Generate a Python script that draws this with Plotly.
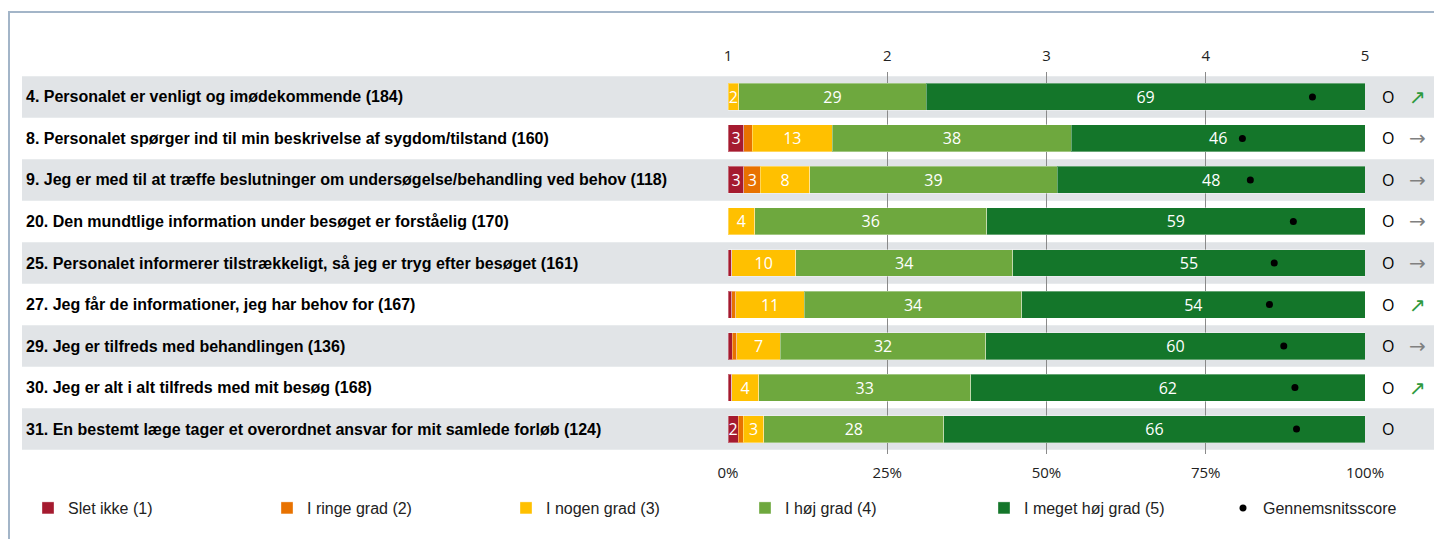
import plotly.graph_objects as go

questions = [
    "4. Personalet er venligt og imødekommende (184)",
    "8. Personalet spørger ind til min beskrivelse af sygdom/tilstand (160)",
    "9. Jeg er med til at træffe beslutninger om undersøgelse/behandling ved behov (118)",
    "20. Den mundtlige information under besøget er forståelig (170)",
    "25. Personalet informerer tilstrækkeligt, så jeg er tryg efter besøget (161)",
    "27. Jeg får de informationer, jeg har behov for (167)",
    "29. Jeg er tilfreds med behandlingen (136)",
    "30. Jeg er alt i alt tilfreds med mit besøg (168)",
    "31. En bestemt læge tager et overordnet ansvar for mit samlede forløb (124)",
]
slet_ikke = [0, 2.5, 2.5, 0, 0.6, 0.6, 0.7, 0.6, 1.6]
i_ringe = [0, 1.3, 2.6, 0, 0, 0.6, 0.7, 0, 0.8]
i_nogen = [1.7, 12.6, 7.7, 4.2, 10.0, 10.8, 6.8, 4.2, 3.2]
i_hoej = [29.4, 37.5, 38.9, 36.4, 34.1, 34.1, 32.3, 33.3, 28.3]
i_meget_hoej = [68.9, 46.1, 48.3, 59.4, 55.3, 53.9, 59.5, 61.9, 66.1]
mean_score = [4.67, 4.23, 4.28, 4.55, 4.43, 4.40, 4.49, 4.56, 4.57]
significance = ["O"] * 9
trend = ["up", "flat", "flat", "flat", "flat", "up", "flat", "up", ""]

series = [
    ("Slet ikke (1)", slet_ikke, "#A51A2F"),
    ("I ringe grad (2)", i_ringe, "#E87200"),
    ("I nogen grad (3)", i_nogen, "#FFC000"),
    ("I høj grad (4)", i_hoej, "#6EA83E"),
    ("I meget høj grad (5)", i_meget_hoej, "#14762A"),
]
pct_ticks = [0, 25, 50, 75, 100]
pct_labels = ["0%", "25%", "50%", "75%", "100%"]
score_ticks = [1, 2, 3, 4, 5]

W, H = 1434, 539
L, R, T, B = 728, 0, 72, 85
pw = W - L - R
ph = H - T - B
X_END = 1365  # right end of the 0-100% scale, in page pixels
dom = [0, (X_END - L) / pw]

def px(x):
    return (x - L) / pw

def py(y):
    return 1 - (y - T) / ph

rows = list(range(len(questions)))
fig = go.Figure()

for name, vals, col in series:
    texts = [str(int(v + 0.5)) if v >= 1.5 else "" for v in vals]
    fig.add_trace(go.Bar(
        y=rows, x=vals, orientation="h", name=name,
        marker=dict(color=col, line=dict(color="rgba(255,255,255,0.35)", width=1)),
        width=0.65, text=texts, textposition="inside", insidetextanchor="middle",
        textangle=0, textfont=dict(color="white", size=16, family="Open Sans"),
        hoverinfo="x+name",
    ))

fig.add_trace(go.Scatter(
    x=mean_score, y=rows, xaxis="x2", mode="markers", name="Gennemsnitsscore",
    marker=dict(color="black", size=7),
))

shapes = []
for i in rows:
    if i % 2 == 0:
        shapes.append(dict(type="rect", xref="paper", yref="y", x0=px(22), x1=px(1434),
                           y0=i - 0.5, y1=i + 0.5, fillcolor="#E1E4E7", line=dict(width=0),
                           layer="below"))
# outer frame (left and top edges)
shapes.append(dict(type="path", xref="paper", yref="paper",
                   path=f"M {px(9)} {py(539)} L {px(9)} {py(12)} L {px(1434)} {py(12)}",
                   line=dict(color="#A3B5C8", width=2)))

annotations = []
for i, q in enumerate(questions):
    annotations.append(dict(xref="paper", yref="y", x=px(24), y=i, text=q, showarrow=False,
                            xanchor="left", yanchor="middle",
                            font=dict(family="Liberation Sans, Arial", size=16, color="black",
                                      weight="bold")))
    annotations.append(dict(xref="paper", yref="y", x=px(1388), y=i, text=significance[i],
                            showarrow=False, xanchor="center", yanchor="middle",
                            font=dict(family="Open Sans", size=16, color="black")))
    if trend[i]:
        sym = "↗" if trend[i] == "up" else "→"
        colr = "#2E9A3E" if trend[i] == "up" else "#808080"
        annotations.append(dict(xref="paper", yref="y", x=px(1417), y=i, text=sym,
                                showarrow=False, xanchor="center", yanchor="middle",
                                font=dict(family="DejaVu Sans", size=20, color=colr)))

fig.update_layout(
    width=W, height=H,
    margin=dict(l=L, r=R, t=T, b=B, autoexpand=False),
    paper_bgcolor="white", plot_bgcolor="rgba(0,0,0,0)",
    barmode="stack",
    font=dict(family="Open Sans", size=15, color="#222"),
    showlegend=True,
    legend=dict(orientation="h", x=px(28), xanchor="left", y=py(508), yanchor="middle",
                entrywidth=194, entrywidthmode="pixels", traceorder="normal",
                font=dict(family="Liberation Sans, Arial", size=16, color="#222"),
                itemclick=False, itemdoubleclick=False),
    xaxis=dict(domain=dom, range=[0, 100], tickvals=pct_ticks, ticktext=pct_labels,
               showgrid=True, gridcolor="#8A8A8A", gridwidth=1, zeroline=False,
               showline=False, ticks="outside", ticklen=5, tickcolor="rgba(0,0,0,0)",
               automargin=False,
               tickfont=dict(family="Open Sans", size=15, color="#222"), fixedrange=True),
    xaxis2=dict(domain=dom, range=[1, 5], tickvals=score_ticks, overlaying="x", side="top",
                showgrid=False, zeroline=False, showline=False, automargin=False,
                ticks="outside", ticklen=4, tickcolor="rgba(0,0,0,0)",
                tickfont=dict(family="Open Sans", size=15, color="#222"), fixedrange=True),
    yaxis=dict(range=[len(questions) - 0.4, -0.6], showticklabels=False, showgrid=False,
               zeroline=False, fixedrange=True, automargin=False),
    uniformtext=dict(minsize=16, mode="show"),
    shapes=shapes, annotations=annotations,
)

fig.write_html("out.html", config={"displayModeBar": False},
               post_script="document.body.style.margin='0px';")
